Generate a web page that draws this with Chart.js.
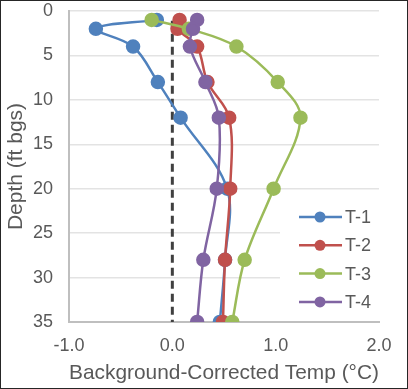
<!DOCTYPE html>
<html lang="en">
<head>
    <meta charset="UTF-8">
    <title>Background-Corrected Temp Profiles</title>
    <script src="https://cdn.jsdelivr.net/npm/chart.js"></script>
    <style>
        body { margin: 0; background: #fff; }
        #wrap { width: 408px; height: 389px; }
    </style>
</head>
<body>
    <div id="wrap"><canvas id="tempChart" width="408" height="389"></canvas></div>

    <script>
        // depth of each reading (ft bgs)
        const depths = [1, 2, 4, 8, 12, 20, 28, 35];
        const seriesNames = ["T-1", "T-2", "T-3", "T-4"];
        const t1 = [-0.15, -0.74, -0.38, -0.14, 0.08, 0.53, 0.51, 0.46];
        const t2 = [0.07, 0.05, 0.24, 0.34, 0.55, 0.56, 0.51, 0.49];
        const t3 = [-0.20, 0.16, 0.62, 1.02, 1.24, 0.98, 0.70, 0.58];
        const t4 = [0.24, 0.20, 0.17, 0.32, 0.45, 0.43, 0.30, 0.24];
        const zeroLine = [{x: 0, y: 1.1}, {x: 0, y: 35}];
        const colors = ["#4F81BD", "#C0504D", "#9BBB59", "#8064A2"];

        const allSeries = [t1, t2, t3, t4];
        const textColor = "#595959";
        const fontFamily = "'Liberation Sans', Arial, sans-serif";

        function toPoints(vals) {
            return vals.map(function(v, i) { return {x: v, y: depths[i]}; });
        }

        const datasets = allSeries.map(function(vals, i) {
            return {
                label: seriesNames[i],
                data: toPoints(vals),
                showLine: true,
                borderColor: colors[i],
                backgroundColor: colors[i],
                borderWidth: 2.5,
                pointRadius: 6,
                pointHoverRadius: 6,
                tension: 0.35,
                order: 4 - i
            };
        });
        datasets.push({
            label: "zero",
            data: zeroLine,
            showLine: true,
            borderColor: "#404040",
            borderWidth: 3,
            borderDash: [8, 5],
            pointRadius: 0,
            order: 5
        });

        // Excel-style legend drawn inside the plot area
        const insideLegend = {
            id: "insideLegend",
            afterDatasetsDraw(chart) {
                const ctx = chart.ctx;
                const area = chart.chartArea;
                ctx.save();
                ctx.fillStyle = "#fff";
                ctx.fillRect(280, 203, area.right - 280, 113);
                ctx.font = "18px " + fontFamily;
                ctx.textBaseline = "middle";
                seriesNames.forEach(function(name, i) {
                    const y = 217 + i * 28.3;
                    ctx.strokeStyle = colors[i];
                    ctx.lineWidth = 2.5;
                    ctx.beginPath();
                    ctx.moveTo(299, y);
                    ctx.lineTo(342, y);
                    ctx.stroke();
                    ctx.fillStyle = colors[i];
                    ctx.beginPath();
                    ctx.arc(320, y, 5.5, 0, Math.PI * 2);
                    ctx.fill();
                    ctx.fillStyle = textColor;
                    ctx.fillText(name, 345, y + 1);
                });
                ctx.restore();
            },
            afterDraw(chart) {
                const ctx = chart.ctx;
                ctx.save();
                ctx.strokeStyle = "#262626";
                ctx.lineWidth = 1;
                ctx.strokeRect(0.5, 0.5, chart.width - 1, chart.height - 1);
                ctx.restore();
            }
        };

        new Chart(document.getElementById("tempChart"), {
            type: "scatter",
            data: { datasets: datasets },
            plugins: [insideLegend],
            options: {
                responsive: false,
                animation: false,
                layout: { padding: { top: 11, right: 29, left: 0, bottom: 0 } },
                plugins: {
                    legend: { display: false },
                    tooltip: { enabled: false }
                },
                scales: {
                    x: {
                        type: "linear",
                        min: -1,
                        max: 2,
                        ticks: {
                            stepSize: 1,
                            color: textColor,
                            font: { size: 18, family: fontFamily },
                            padding: 13,
                            callback: function(v) { return v.toFixed(1); }
                        },
                        grid: { display: false, drawTicks: false },
                        border: { color: "#BFBFBF", width: 2 },
                        title: {
                            display: true,
                            text: "Background-Corrected Temp (°C)",
                            color: textColor,
                            font: { size: 21, family: fontFamily },
                            padding: { top: 0, bottom: 3 }
                        },
                        afterFit: function(scale) {
                            scale.height = 67;
                            scale.paddingLeft = 0;
                            scale.paddingRight = 0;
                        }
                    },
                    y: {
                        type: "linear",
                        reverse: true,
                        min: 0,
                        max: 35,
                        ticks: {
                            stepSize: 5,
                            color: textColor,
                            font: { size: 18, family: fontFamily },
                            padding: 16
                        },
                        grid: { color: "#E3E3E3", lineWidth: 1.5, drawTicks: false },
                        border: { color: "#BFBFBF", width: 2 },
                        title: {
                            display: true,
                            text: "Depth (ft bgs)",
                            color: textColor,
                            font: { size: 21, family: fontFamily },
                            padding: { top: 4, bottom: 0 }
                        },
                        afterFit: function(scale) {
                            scale.width = 69;
                            scale.paddingTop = 0;
                            scale.paddingBottom = 0;
                        }
                    }
                }
            }
        });
    </script>
</body>
</html>
